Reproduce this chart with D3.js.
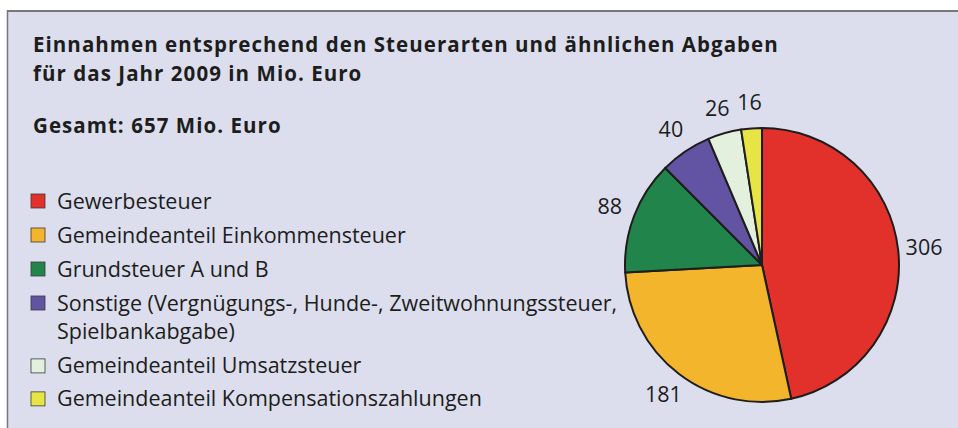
<!DOCTYPE html>
<html>
<head>
<meta charset="utf-8">
<script src="https://cdn.jsdelivr.net/npm/d3@7"></script>
<style>
  body { margin: 0; background: #ffffff; }
  svg { display: block; }
  text { font-family: "Open Sans", "Noto Sans", sans-serif; fill: #1d1d1b; }
</style>
</head>
<body>
<div id="chart"></div>
<script>
//////////////////////////////////////////////////////////////////////////////
// Data

var categories = [
    "Gewerbesteuer",
    "Gemeindeanteil Einkommensteuer",
    "Grundsteuer A und B",
    "Sonstige (Vergnügungs-, Hunde-, Zweitwohnungssteuer,|Spielbankabgabe)",
    "Gemeindeanteil Umsatzsteuer",
    "Gemeindeanteil Kompensationszahlungen"
];
var values = [306, 181, 88, 40, 26, 16];
var colors = ["#e2312b", "#f2b52c", "#21844a", "#6353a3", "#e3f0dd", "#e7e545"];
var titleLines = [
    "Einnahmen entsprechend den Steuerarten und ähnlichen Abgaben",
    "für das Jahr 2009 in Mio. Euro"
];
var totalLabel = "Gesamt: 657 Mio. Euro";

//////////////////////////////////////////////////////////////////////////////
// Layout

var width = 958, height = 428;
var cx = 762, cy = 265, radius = 137, labelRadius = 163;

var data = categories.map(function(c, i) {
    return { name: c, value: values[i], color: colors[i] };
});

var svg = d3.select("#chart")
    .append("svg")
    .attr("width", width)
    .attr("height", height);

// panel
svg.append("rect")
    .attr("x", 7).attr("y", 10)
    .attr("width", width).attr("height", height)
    .attr("fill", "#dcdeee");
svg.append("line")
    .attr("x1", 7).attr("x2", width).attr("y1", 11).attr("y2", 11)
    .attr("stroke", "#78787c").attr("stroke-width", 2);
svg.append("line")
    .attr("x1", 7.5).attr("x2", 7.5).attr("y1", 10).attr("y2", height)
    .attr("stroke", "#78787c").attr("stroke-width", 1.5);

// title
svg.append("g")
    .selectAll("text")
    .data(titleLines)
    .enter()
    .append("text")
    .attr("x", 33)
    .attr("y", function(d, i) { return 52 + i * 28.5; })
    .attr("font-size", 20.5)
    .attr("letter-spacing", 1.05)
    .attr("font-weight", "bold")
    .text(function(d) { return d; });

svg.append("text")
    .attr("x", 33).attr("y", 133)
    .attr("font-size", 20.5)
    .attr("letter-spacing", 1.05)
    .attr("font-weight", "bold")
    .text(totalLabel);

// legend
var legendY = d3.scaleLinear().domain([0, 1]).range([201, 235]);
var legendRows = [0, 1, 2, 3, 4.85, 5.82];

var legend = svg.append("g")
    .selectAll("g")
    .data(data)
    .enter()
    .append("g")
    .attr("transform", function(d, i) {
        return "translate(0," + legendY(legendRows[i]) + ")";
    });

legend.append("rect")
    .attr("x", 31).attr("y", -7)
    .attr("width", 14).attr("height", 14)
    .attr("fill", function(d) { return d.color; })
    .attr("stroke", "#3a3a3a")
    .attr("stroke-width", 0.8);

legend.append("text")
    .attr("x", 57)
    .attr("font-size", 21.5)
    .selectAll("tspan")
    .data(function(d) { return d.name.split("|"); })
    .enter()
    .append("tspan")
    .attr("x", 57)
    .attr("y", function(d, i) { return 7.5 + i * 28; })
    .text(function(d) { return d; });

// pie
var pie = d3.pie().sort(null).value(function(d) { return d.value; });
var arc = d3.arc().innerRadius(0).outerRadius(radius);
var labelArc = d3.arc().innerRadius(labelRadius).outerRadius(labelRadius);

var pieG = svg.append("g")
    .attr("transform", "translate(" + cx + "," + cy + ")");

var arcs = pie(data);

pieG.selectAll("path")
    .data(arcs)
    .enter()
    .append("path")
    .attr("d", arc)
    .attr("fill", function(d) { return d.data.color; })
    .attr("stroke", "#1d1d1b")
    .attr("stroke-width", 2)
    .attr("stroke-linejoin", "round");

pieG.selectAll("text")
    .data(arcs)
    .enter()
    .append("text")
    .attr("transform", function(d) { return "translate(" + labelArc.centroid(d) + ")"; })
    .attr("text-anchor", "middle")
    .attr("dy", "0.35em")
    .attr("font-size", 21.5)
    .text(function(d) { return d.data.value; });
</script>
</body>
</html>
